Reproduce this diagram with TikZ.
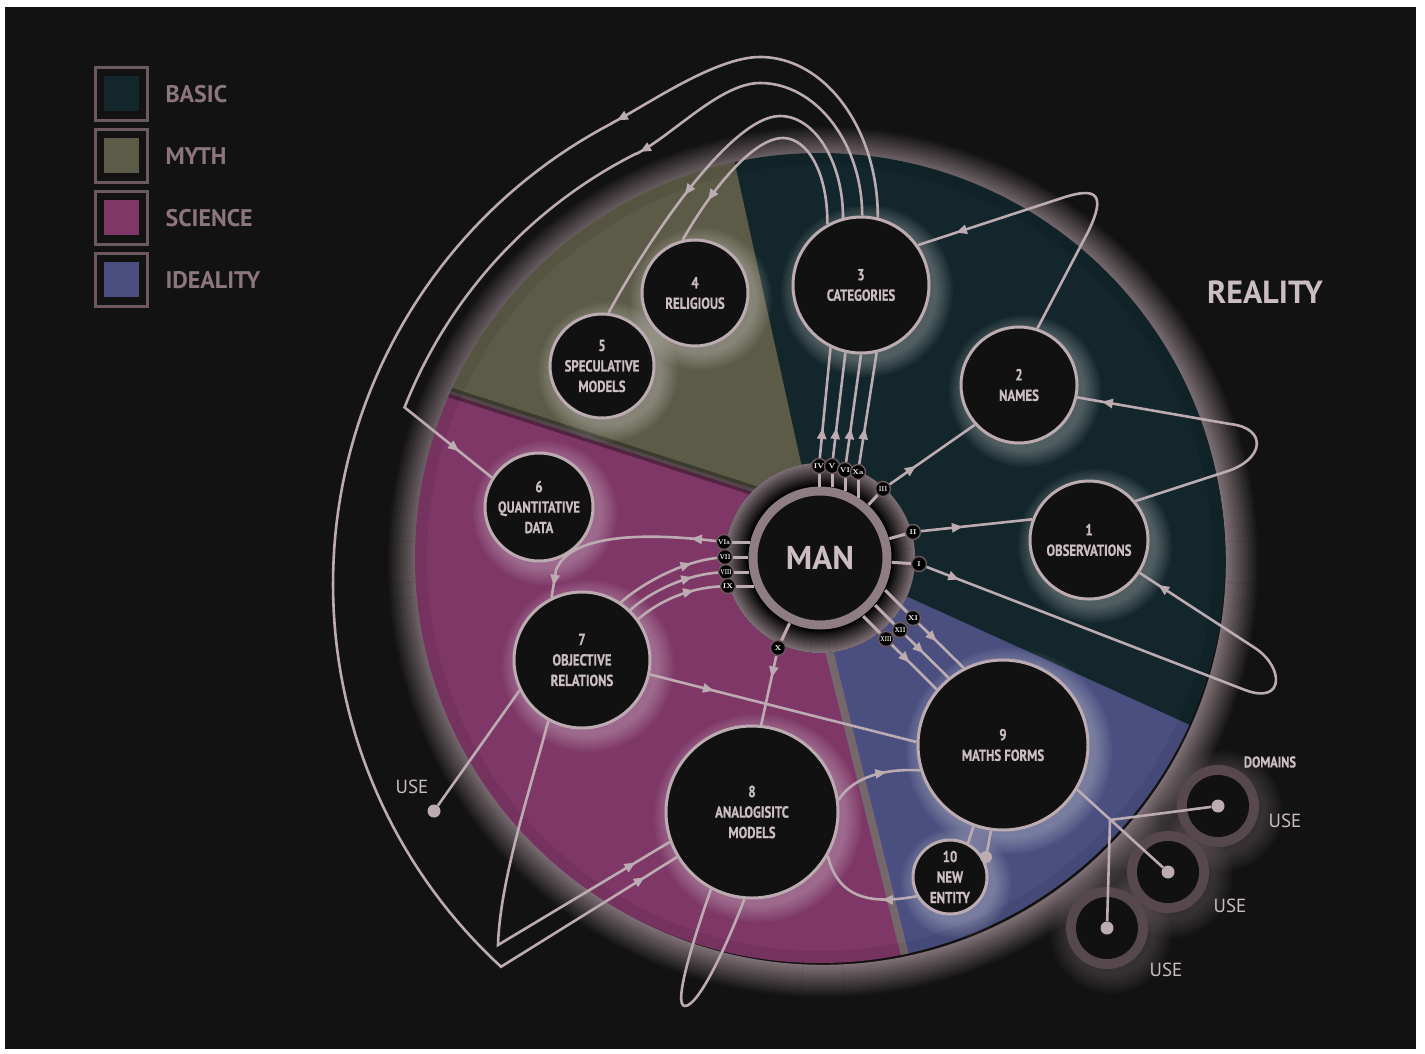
\documentclass[tikz,border=0pt]{standalone}
\usepackage{fontspec}
\usepackage{graphicx}
\usetikzlibrary{arrows.meta,decorations.markings}
\newfontfamily\condfont{PT Sans Bold}[FakeStretch=0.8, FakeBold=0.6]
\newfontfamily\labfont{PT Sans}

\definecolor{bgc}{HTML}{121212}
\definecolor{basic}{HTML}{12262B}
\definecolor{myth}{HTML}{5C5B47}
\definecolor{science}{HTML}{7E3767}
\definecolor{ideality}{HTML}{4A4F80}
\definecolor{linec}{HTML}{BCABB1}
\definecolor{txtc}{HTML}{CBBDC1}
\definecolor{legc}{HTML}{8C767C}
\definecolor{boxc}{HTML}{6B595F}
\definecolor{ringc}{HTML}{8E7E84}
\definecolor{rimlight}{HTML}{8A7A80}
\definecolor{rimmid}{HTML}{54474C}
\definecolor{domc}{HTML}{56484D}
\definecolor{nodec}{HTML}{111111}

% soft light on the lower right of a bubble
\newcommand{\halo}[3]{\foreach \k in {1,...,9}{\fill[white, opacity=0.035] ({#1+6},{#2+6}) circle ({#3+2*\k});}}

\tikzset{
  bub/.style={circle, fill=nodec, draw=linec, line width=3pt, inner sep=0pt, align=center,
    text=txtc, font=\condfont\fontsize{16}{20.5}\selectfont},
  rn/.style={circle, fill=black, draw=boxc, line width=1.4pt, minimum size=15pt, inner sep=0pt,
    text=white, font=\rmfamily\bfseries\fontsize{7}{7}\selectfont},
  link/.style={draw=linec, line width=2.6pt},
  stub/.style={draw=linec, line width=3pt},
  arrat/.style={postaction={decorate, decoration={markings,
    mark=at position #1 with {\arrow{Triangle[length=11pt,width=9pt]}}}}},
  knob/.style={circle, fill=linec, inner sep=0pt, minimum size=13pt},
  legtxt/.style={anchor=west, text=legc, font=\labfont\bfseries\fontsize{24}{24}\selectfont},
  uselab/.style={text=txtc, font=\labfont\fontsize{19}{19}\selectfont},
}

\begin{document}
\begin{tikzpicture}[x=1pt, y=-1pt]
\fill[white] (0,0) rectangle (1425,1053);
\fill[bgc] (5,7) rectangle (1416,1049);
\useasboundingbox (0,0) rectangle (1425,1053);

% legend
\foreach \c/\t [count=\i from 0] in {basic/BASIC, myth/MYTH, science/SCIENCE, ideality/IDEALITY} {
  \draw[boxc, line width=3pt] (95,{67+62*\i}) rectangle (147,{120+62*\i});
  \fill[\c] (104,{76+62*\i}) rectangle (139,{111+62*\i});
  \node[legtxt] (leg\i) at (162,{94+62*\i}) {\t};
}

% rim of the disc, fading outwards
\foreach \k in {16,...,0} {
  \pgfmathtruncatemacro\p{max(0,88-5.5*\k)}
  \draw[rimlight!\p!bgc, line width=2.4pt] (823,562) circle ({404+2*\k});
}
% the four sectors
\begin{scope}
  \clip (820,558) circle (405);
  \fill[basic] (822,558) -- (690,-40) -- (1300,-40) -- (1300,775) -- cycle;
  \fill[ideality] (822,558) -- (1300,775) -- (1300,1100) -- (941,1100) -- (806,558) -- cycle;
  \fill[science] (806,558) -- (941,1100) -- (300,1100) -- (300,344) -- (820,512) -- cycle;
  \fill[myth] (820,512) -- (300,344) -- (300,-40) -- (690,-40) -- (822,558) -- cycle;
  \draw[black, opacity=0.35, line width=10pt] (300,344) -- (820,512);
  \draw[rimmid, line width=3pt] (300,344) -- (820,512);
  \draw[rimlight!85!black, line width=8pt] (806,558) -- (941,1100);
  \foreach \k in {0,...,5} {\draw[black, opacity=0.06, line width=2pt] (820,558) circle ({404-2*\k});}
\end{scope}

\halo{861}{285}{68}
\halo{695}{293}{53}
\halo{602}{366}{52}
\halo{1019}{385}{58}
\halo{1089}{540}{59}
\halo{539}{507}{54}
\halo{582}{660}{68}
\halo{752}{812}{86}
\halo{1003}{745}{85}
\halo{950}{877}{37}

% domains
\foreach \x/\y in {1218/806, 1168/872, 1107/928} {
  \foreach \k in {1,...,9} {\fill[rimlight, opacity=0.045] ({\x+4},{\y+5}) circle ({41+2.2*\k});}
}
\foreach \x/\y in {1218/806, 1168/872, 1107/928} {
  \fill[domc] (\x,\y) circle (41);
  \fill[nodec] (\x,\y) circle (31);
}

% dark collar of MAN, lighter to its edge
\fill[black] (820,558) circle (95);
\foreach \k in {0,...,11} {
  \pgfmathtruncatemacro\p{8*\k}
  \draw[rimlight!\p!black, line width=2.3pt] (820,558) circle ({72+2*\k});
}

% bubbles
\node[bub, minimum size=136pt] (c3) at (861,285) {3\\CATEGORIES};
\node[bub, minimum size=106pt] (c4) at (695,293) {4\\RELIGIOUS};
\node[bub, minimum size=104pt] (c5) at (602,366) {5\\SPECULATIVE\\MODELS};
\node[bub, minimum size=116pt] (c2) at (1019,385) {2\\NAMES};
\node[bub, minimum size=118pt] (c1) at (1089,540) {1\\OBSERVATIONS};
\node[bub, minimum size=108pt] (c6) at (539,507) {6\\QUANTITATIVE\\DATA};
\node[bub, minimum size=136pt] (c7) at (582,660) {7\\OBJECTIVE\\RELATIONS};
\node[bub, minimum size=172pt] (c8) at (752,812) {8\\ANALOGISITC\\MODELS};
\node[bub, minimum size=170pt] (c9) at (1003,745) {9\\MATHS FORMS};
\node[bub, minimum size=74pt] (c10) at (950,877) {10\\NEW\\ENTITY};

\node[circle, fill=nodec, draw=ringc, line width=9pt, minimum size=134pt, text=txtc,
  font=\labfont\bfseries\fontsize{33}{33}\selectfont] (man) at (820,558) {MAN};

% roman badges
\node[rn] (bIV) at (819,466) {IV};
\node[rn] (bV) at (832,466) {V};
\node[rn] (bVI) at (845,470) {VI};
\node[rn] (bXa) at (858,472) {Xa};
\node[rn] (bIII) at (883,489) {\scalebox{0.8}[1]{III}};
\node[rn] (bII) at (913,532) {II};
\node[rn] (bI) at (919,564) {I};
\node[rn] (bXI) at (913,618) {XI};
\node[rn] (bXII) at (900,630) {\scalebox{0.8}[1]{XII}};
\node[rn] (bXIII) at (886,639) {\scalebox{0.65}[1]{XIII}};
\node[rn] (bX) at (778,648) {X};
\node[rn] (bVIa) at (724,542) {\scalebox{0.8}[1]{VIa}};
\node[rn] (bVII) at (725,557) {\scalebox{0.8}[1]{VII}};
\node[rn] (bVIII) at (726,572) {\scalebox{0.65}[1]{VIII}};
\node[rn] (bIX) at (728,586) {IX};

\draw[stub] (bIV.south) -- +(0,13);
\draw[stub] (bV.south) -- +(0,13);
\draw[stub] (bVI.south) -- +(0,13);
\draw[stub] (bXa.south) -- +(0,18);
\draw[stub] (bVIa.east) -- +(18,0);
\draw[stub] (bVII.east) -- +(15,0);
\draw[stub] (bVIII.east) -- +(15,0);
\draw[stub] (bIX.east) -- +(18,0);
\draw[stub] (bXI.135) -- +(-22,-22);
\draw[stub] (bXII.135) -- +(-19,-19);
\draw[stub] (bXIII.135) -- +(-17,-17);
\draw[stub, shorten >=72pt] (bIII) -- (man.center);
\draw[stub, shorten >=72pt] (bII) -- (man.center);
\draw[stub, shorten >=72pt] (bI) -- (man.center);
\draw[stub, shorten >=72pt] (bX) -- (man.center);

% MAN to the bubbles
\draw[link, arrat=30pt] (bIV) -- (c3.-116);
\draw[link, arrat=30pt] (bV) -- (c3.-103);
\draw[link, arrat=34pt] (bVI) -- (c3.-90);
\draw[link, arrat=36pt] (bXa) -- (c3.-77);
\draw[link, arrat=32pt] (bIII) -- (c2.222);
\draw[link, arrat=42pt] (bII) -- (c1.160);
\draw[link, arrat=35pt, arrat=-22pt] (bI) -- (1245,690) .. controls (1285,705) and (1284,667) .. (1255,648) -- (c1.-33);
\draw[link, arrat=-25pt] (c1.40) -- (1225,472) .. controls (1265,460) and (1268,428) .. (1230,424) -- (c2.-12);
\draw[link, arrat=-40pt] (c2.72) -- (1088,232) .. controls (1106,195) and (1098,186) .. (1062,198) -- (c3.35);

% categories back round to the left
\draw[link, arrat=378pt, arrat=-38pt] (c3.76) .. controls (878,129) and (825,57) .. (760,57)
  .. controls (715,57) and (647,105) .. (612,123)
  -- plot[domain=242.4:132.6, samples=80, variable=\t] ({853+520*cos(\t)},{584+520*sin(\t)})
  -- (c8.211);
\draw[link, arrat=325pt, arrat=-42pt] (c3.89) .. controls (862,143) and (816,83) .. (760,83)
  .. controls (720,83) and (672,136) .. (636,154)
  -- plot[domain=243.2:201.5, samples=50, variable=\t] ({853+482*cos(\t)},{584+482*sin(\t)})
  -- (c6.148);
\draw[link, arrat=258pt] (c3.105) .. controls (843,162) and (815,116) .. (780,116)
  .. controls (730,116) and (645,245) .. (c5.83);
\draw[link, arrat=206pt] (c3.119) .. controls (828,174) and (808,138) .. (783,138)
  .. controls (750,138) and (705,200) .. (c4.103);

% science side
\draw[link, arrat=25pt, arrat=-12pt] (bVIa) .. controls (640,532) and (570,535) .. (556,570) -- (c7.116);
\draw[link, arrat=-26pt] (c7.56) .. controls (640,585) and (680,562) .. (bVII);
\draw[link, arrat=-26pt] (c7.46) .. controls (650,592) and (685,575) .. (bVIII);
\draw[link, arrat=-26pt] (c7.36) .. controls (660,600) and (690,588) .. (bIX);
\draw[link, arrat=22pt] (bX) -- (c8.84);
\draw[link, arrat=66pt] (c7.-12) -- (c9.178);
\node[knob] (use7) at (434,811) {};
\draw[link] (c7.206) -- (use7);
\draw[link, arrat=-40pt] (c7.241) .. controls (530,790) and (500,880) .. (498,945) -- (c8.200);
\draw[link] (c8.242) .. controls (695,935) and (672,1006) .. (685,1006) .. controls (698,1006) and (725,950) .. (c8.265);

% ideality side
\draw[link, arrat=25pt] (bXI) -- (c9.117);
\draw[link, arrat=25pt] (bXII) -- (c9.129);
\draw[link, arrat=25pt] (bXIII) -- (c9.140);
\draw[link, arrat=-34pt] (c8.8) .. controls (850,782) and (875,768) .. (c9.197);
\draw[link, arrat=35pt] (c10.210) .. controls (870,905) and (838,898) .. (c8.-30);
\node[knob, minimum size=12pt] (d10) at (986,857) {};
\draw[link] (c9.250) -- (c10.62);
\draw[link] (c9.262) -- (d10);

\node[knob] (dd1) at (1218,806) {};
\node[knob] (dd2) at (1168,872) {};
\node[knob] (dd3) at (1107,928) {};
\coordinate (br) at (1110,820);
\draw[link] (c9.-31) -- (dd2);
\draw[link] (br) -- (dd1);
\draw[link] (br) -- (dd3);

% labels
\node[text=txtc, font=\labfont\bfseries\fontsize{32}{32}\selectfont] (real) at (1265,292) {REALITY};
\node[text=txtc, font=\condfont\fontsize{15.5}{15.5}\selectfont] (dom) at (1270,762) {DOMAINS};
\node[uselab] (u7) at (412,787) {USE};
\node[uselab] (u1) at (1285,821) {USE};
\node[uselab] (u2) at (1230,906) {USE};
\node[uselab] (u3) at (1166,970) {USE};
\end{tikzpicture}
\end{document}
